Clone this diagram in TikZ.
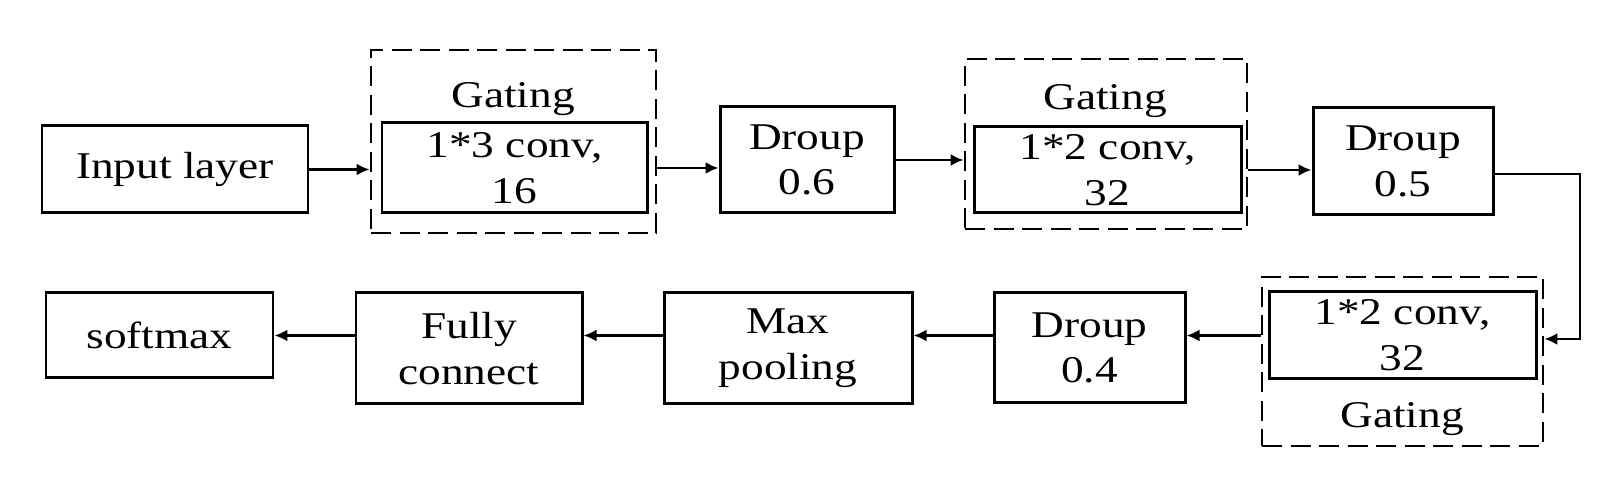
\documentclass[tikz,border=0pt]{standalone}
\usepackage{fontspec}
\setmainfont[FakeStretch=1.2]{Liberation Serif}
\usetikzlibrary{arrows.meta}

\begin{document}
\begin{tikzpicture}[
    box/.style={draw, line width=1.7pt, align=center, inner sep=0pt},
    gate/.style={draw, line width=1.6pt, dash pattern=on 4mm off 1.7mm, inner sep=0pt},
    link/.style={line width=1.4pt, -{Latex[length=2.6mm,width=2.4mm]}},
    font=\fontsize{21.5pt}{26pt}\selectfont]
\useasboundingbox (0,0) rectangle (32.16,9.54);
% upper row
\node [box, minimum width=5.32cm, minimum height=1.74cm] (input) at (3.50,6.15) {Input layer};
\node [gate, minimum width=5.70cm, minimum height=3.66cm] (gate1) at (10.27,6.71) {};
\node (gtext1) at (10.26,7.56) {Gating};
\node [box, minimum width=5.30cm, minimum height=1.80cm] (conv1) at (10.29,6.18) {1*3 conv,\\16};
\node [box, minimum width=3.48cm, minimum height=2.12cm] (drop1) at (16.14,6.34) {Droup\\0.6};
\node [gate, minimum width=5.64cm, minimum height=3.40cm] (gate2) at (22.12,6.66) {};
\node (gtext2) at (22.10,7.52) {Gating};
\node [box, minimum width=5.34cm, minimum height=1.72cm] (conv2) at (22.15,6.14) {1*2 conv,\\32};
\node [box, minimum width=3.60cm, minimum height=2.14cm] (drop2) at (28.06,6.31) {Droup\\0.5};
% lower row
\node [gate, minimum width=5.62cm, minimum height=3.38cm] (gate3) at (28.05,2.31) {};
\node [box, minimum width=5.34cm, minimum height=1.74cm] (conv3) at (28.05,2.83) {1*2 conv,\\32};
\node (gtext3) at (28.04,1.16) {Gating};
\node [box, minimum width=3.82cm, minimum height=2.20cm] (drop3) at (21.79,2.58) {Droup\\0.4};
\node [box, minimum width=4.96cm, minimum height=2.22cm] (pool) at (15.76,2.57) {Max\\pooling};
\node [box, minimum width=4.52cm, minimum height=2.22cm] (fc) at (9.38,2.57) {Fully\\connect};
\node [box, minimum width=4.54cm, minimum height=1.70cm] (soft) at (3.19,2.83) {softmax};
\coordinate (turn) at (31.60,6.06);

\draw [link] (input.east) -- (input.east -| gate1.west);
\draw [link] (gate1.east |- conv1) -- (drop1.west |- conv1);
\draw [link] (drop1.east) -- (drop1.east -| gate2.west);
\draw [link] (gate2.east |- conv2) -- (drop2.west |- conv2);
\draw [link] (drop2.east |- turn) -- (turn) |- ([yshift=-2pt]gate3.east |- conv3);
\draw [link] (gate3.west |- soft) -- (drop3.east |- soft);
\draw [link] (drop3.west |- soft) -- (pool.east |- soft);
\draw [link] (pool.west |- soft) -- (fc.east |- soft);
\draw [link] (fc.west |- soft) -- (soft.east);
\end{tikzpicture}
\end{document}
